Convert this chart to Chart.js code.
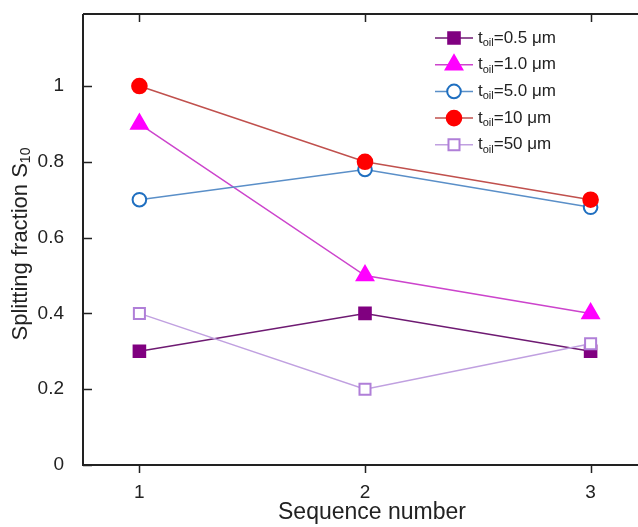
<!DOCTYPE html>
<html>
<head>
<meta charset="utf-8">
<script src="https://cdn.jsdelivr.net/npm/chart.js@4"></script>
<style>
  html, body { margin: 0; padding: 0; background: #fff; overflow: hidden; }
  #wrap { width: 660px; height: 527px; }
</style>
</head>
<body>
<div id="wrap"><canvas id="grafico"></canvas></div>
<script>
// sequence numbers and splitting fraction for each oil thickness
const sequence = [1, 2, 3];
const toil05 = [0.3, 0.4, 0.3];
const toil10 = [0.9, 0.5, 0.4];
const toil50 = [0.7, 0.78, 0.68];
const toil100 = [1.0, 0.8, 0.7];
const toil500 = [0.4, 0.2, 0.32];
const yTicks = [0, 0.2, 0.4, 0.6, 0.8, 1];
const xTicks = [1, 2, 3];

function pontos(valores) {
    return sequence.map(function (s, i) { return { x: s, y: valores[i] }; });
}

const series = [
    { nome: "0.5 μm", dados: toil05, linha: "#6e1a72", fundo: "#800080", borda: "#800080", estilo: "rect", raio: 8.2, ordem: 5 },
    { nome: "1.0 μm", dados: toil10, linha: "#cc44cc", fundo: "#ff00ff", borda: "#ff00ff", estilo: "triangle", raio: 9.5, ordem: 4 },
    { nome: "5.0 μm", dados: toil50, linha: "#5a8fc8", fundo: "#ffffff", borda: "#1f6fc0", estilo: "circle", raio: 6.8, ordem: 3 },
    { nome: "10 μm", dados: toil100, linha: "#c0504d", fundo: "#ff0000", borda: "#ff0000", estilo: "circle", raio: 7.3, ordem: 2 },
    { nome: "50 μm", dados: toil500, linha: "#c0a0e0", fundo: "#ffffff", borda: "#b07fd8", estilo: "rect", raio: 7.8, ordem: 1 }
];

const fonte = "'Liberation Sans', Arial, sans-serif";

// t_oil label with subscript
function textoToil(ctx, x, y, resto) {
    ctx.textAlign = "left";
    ctx.textBaseline = "middle";
    ctx.font = "17px " + fonte;
    ctx.fillText("t", x, y);
    let px = x + ctx.measureText("t").width;
    ctx.font = "11px " + fonte;
    ctx.fillText("oil", px, y + 5);
    px += ctx.measureText("oil").width;
    ctx.font = "17px " + fonte;
    ctx.fillText("=" + resto, px, y);
}

function marcador(ctx, s, x, y) {
    Chart.helpers.drawPoint(ctx, {
        pointStyle: s.estilo,
        radius: s.raio,
        borderWidth: 2
    }, x, y);
}

const molduraPlugin = {
    id: "moldura",
    afterDraw: function (chart) {
        const ctx = chart.ctx;
        const a = chart.chartArea;
        const sx = chart.scales.x;
        const sy = chart.scales.y;
        ctx.save();
        ctx.strokeStyle = "#222";
        ctx.lineWidth = 2;
        ctx.beginPath();
        ctx.moveTo(a.left, a.top);
        ctx.lineTo(a.right, a.top);
        ctx.moveTo(a.left, a.top);
        ctx.lineTo(a.left, a.bottom);
        ctx.lineTo(a.right, a.bottom);
        ctx.lineTo(a.right, a.top);
        ctx.stroke();

        ctx.lineWidth = 1.5;
        ctx.beginPath();
        xTicks.forEach(function (v) {
            const px = Math.round(sx.getPixelForValue(v)) + 0.5;
            ctx.moveTo(px, a.bottom);
            ctx.lineTo(px, a.bottom + 8);
            ctx.moveTo(px, a.top);
            ctx.lineTo(px, a.top + 8);
        });
        yTicks.forEach(function (v) {
            const py = Math.round(sy.getPixelForValue(v)) + 0.5;
            ctx.moveTo(a.left, py);
            ctx.lineTo(a.left + 9, py);
        });
        ctx.stroke();

        // axis titles
        ctx.fillStyle = "#222";
        ctx.font = "23px " + fonte;
        ctx.textAlign = "center";
        ctx.textBaseline = "middle";
        ctx.fillText("Sequence number", 372, 513);

        ctx.save();
        ctx.translate(21, 244);
        ctx.rotate(-Math.PI / 2);
        const t1 = "Splitting fraction S";
        ctx.font = "22px " + fonte;
        const w1 = ctx.measureText(t1).width;
        ctx.font = "14px " + fonte;
        const w2 = ctx.measureText("10").width;
        const x0 = -(w1 + w2) / 2;
        ctx.textAlign = "left";
        ctx.font = "22px " + fonte;
        ctx.fillText(t1, x0, 0);
        ctx.font = "14px " + fonte;
        ctx.fillText("10", x0 + w1, 5);
        ctx.restore();

        // legend
        series.forEach(function (s, i) {
            const y = 38 + i * 26.7;
            ctx.strokeStyle = s.linha;
            ctx.lineWidth = 1.5;
            ctx.beginPath();
            ctx.moveTo(435, y);
            ctx.lineTo(473, y);
            ctx.stroke();
            ctx.fillStyle = s.fundo;
            ctx.strokeStyle = s.borda;
            ctx.lineWidth = 2;
            marcador(ctx, s, 454, y);
            ctx.fillStyle = "#222";
            textoToil(ctx, 478, y, s.nome);
        });
        ctx.restore();
    }
};

new Chart(document.getElementById("grafico"), {
    type: "line",
    data: {
        datasets: series.map(function (s) {
            return {
                label: s.nome,
                data: pontos(s.dados),
                borderColor: s.linha,
                borderWidth: 1.5,
                pointStyle: s.estilo,
                pointRadius: s.raio,
                pointBackgroundColor: s.fundo,
                pointBorderColor: s.borda,
                pointBorderWidth: 2,
                order: s.ordem,
                tension: 0
            };
        })
    },
    options: {
        responsive: true,
        maintainAspectRatio: false,
        animation: false,
        layout: { padding: { top: 14, right: 13, left: 0, bottom: 0 } },
        plugins: {
            legend: { display: false },
            tooltip: { enabled: false }
        },
        scales: {
            x: {
                type: "linear",
                min: 0.75,
                max: 3.25,
                afterFit: function (s) {
                    s.height = 62;
                    s.paddingLeft = 0;
                    s.paddingRight = 0;
                },
                afterBuildTicks: function (s) { s.ticks = xTicks.map(function (v) { return { value: v }; }); },
                grid: { display: false },
                border: { display: false },
                ticks: {
                    padding: 8,
                    color: "#222",
                    font: { family: fonte, size: 19 },
                    callback: function (v) { return String(v); }
                }
            },
            y: {
                min: 0,
                max: 1.19,
                afterFit: function (s) {
                    s.width = 83;
                    s.paddingTop = 0;
                    s.paddingBottom = 0;
                },
                afterBuildTicks: function (s) { s.ticks = yTicks.map(function (v) { return { value: v }; }); },
                grid: { display: false },
                border: { display: false },
                ticks: {
                    padding: 11,
                    color: "#222",
                    font: { family: fonte, size: 19 },
                    callback: function (v) { return String(v); }
                }
            }
        }
    },
    plugins: [molduraPlugin]
});
</script>
</body>
</html>
